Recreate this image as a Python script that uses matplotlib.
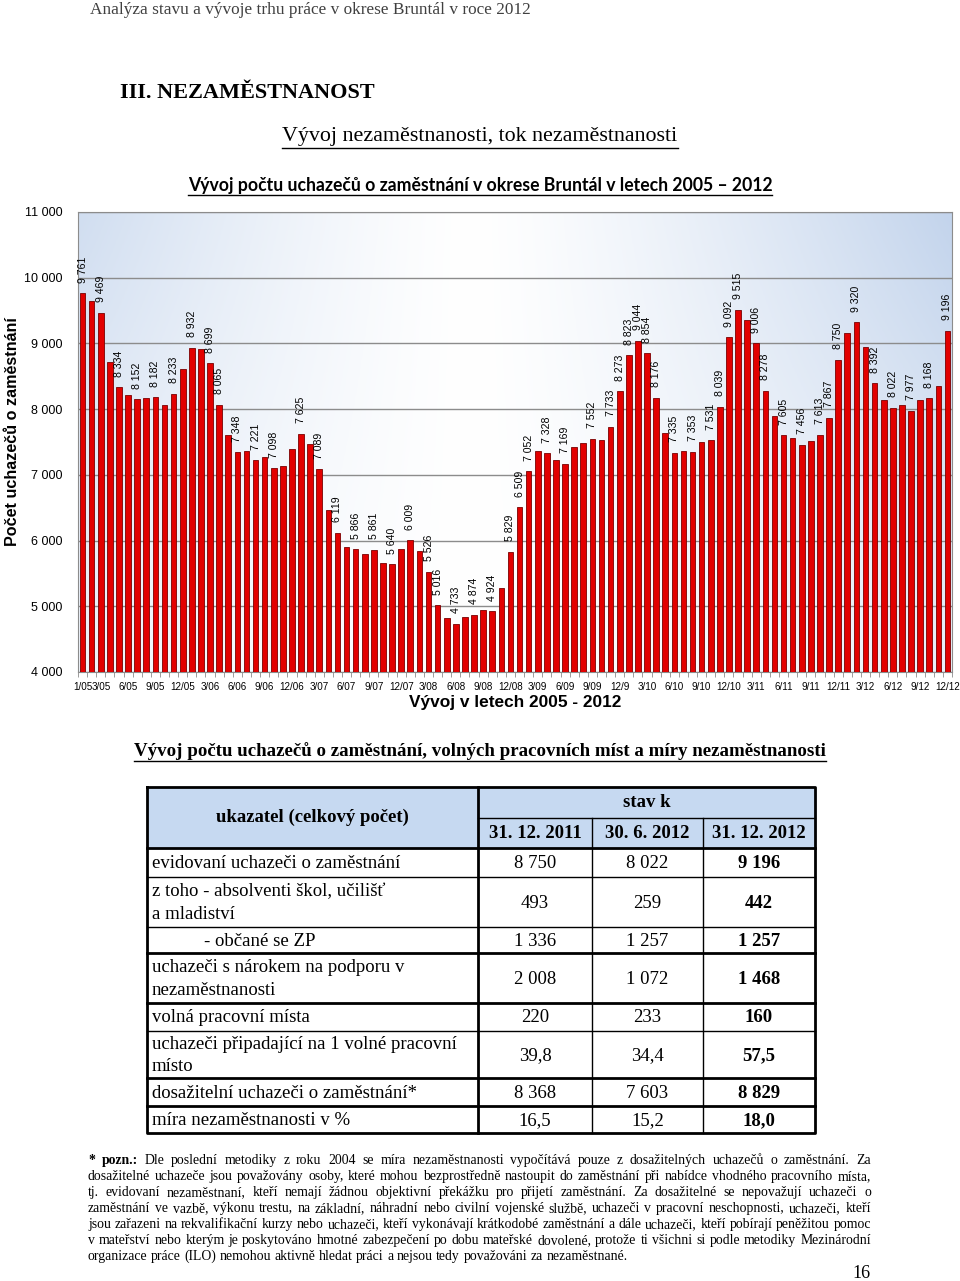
import matplotlib.pyplot as plt
import numpy as np
from matplotlib.colors import to_rgb

# pocet uchazecu o zamestnani, mesicne 1/2005 - 12/2012
values = [9761, 9640, 9469, 8712, 8334, 8218, 8152, 8168, 8182, 8062, 8233, 8617,
          8932, 8910, 8699, 8065, 7602, 7348, 7365, 7221, 7275, 7098, 7128, 7390,
          7625, 7472, 7089, 6462, 6119, 5906, 5866, 5795, 5861, 5659, 5640, 5876,
          6009, 5846, 5526, 5016, 4816, 4733, 4841, 4874, 4942, 4924, 5280, 5829,
          6509, 7052, 7356, 7328, 7219, 7169, 7431, 7482, 7552, 7533, 7733, 8273,
          8823, 9044, 8854, 8176, 7639, 7335, 7361, 7353, 7507, 7531, 8039, 9092,
          9515, 9350, 9006, 8278, 7891, 7605, 7558, 7456, 7522, 7613, 7867, 8750,
          9159, 9320, 8941, 8392, 8138, 8022, 8063, 7977, 8138, 8168, 8351, 9196]
# bars (1-based) that carry a value label
labelled = [1, 3, 5, 7, 9, 11, 13, 15, 16, 18, 20, 22, 25, 27, 29, 31, 33, 35, 37, 39,
            40, 42, 44, 46, 48, 49, 50, 52, 54, 57, 59, 60, 61, 62, 63, 64, 66, 68, 70,
            71, 72, 73, 75, 76, 78, 80, 82, 83, 84, 86, 88, 90, 92, 94, 96]
tick_labels = ['1/05', '3/05', '6/05', '9/05', '12/05', '3/06', '6/06', '9/06', '12/06',
               '3/07', '6/07', '9/07', '12/07', '3/08', '6/08', '9/08', '12/08',
               '3/09', '6/09', '9/09', '12/9', '3/10', '6/10', '9/10', '12/10',
               '3/11', '6/11', '9/11', '12/11', '3/12', '6/12', '9/12', '12/12']
tick_bars = [1, 3] + list(range(6, 97, 3))

tab_dates = ['31. 12. 2011', '30. 6. 2012', '31. 12. 2012']
tab_rows = ['evidovaní uchazeči o zaměstnání',
            'z toho - absolventi škol, učilišť\na mladiství',
            '- občané se ZP',
            'uchazeči s nárokem na podporu v\nnezaměstnanosti',
            'volná pracovní místa',
            'uchazeči připadající na 1 volné pracovní\nmísto',
            'dosažitelní uchazeči o zaměstnání*',
            'míra nezaměstnanosti v %']
col_dec2011 = ['8 750', '493', '1 336', '2 008', '220', '39,8', '8 368', '16,5']
col_jun2012 = ['8 022', '259', '1 257', '1 072', '233', '34,4', '7 603', '15,2']
col_dec2012 = ['9 196', '442', '1 257', '1 468', '160', '57,5', '8 829', '18,0']

note_lines = [
    '* pozn.: Dle poslední metodiky z roku 2004 se míra nezaměstnanosti vypočítává pouze z dosažitelných uchazečů o zaměstnání. Za',
    'dosažitelné uchazeče jsou považovány osoby, které mohou bezprostředně nastoupit do zaměstnání při nabídce vhodného pracovního místa,',
    'tj. evidovaní nezaměstnaní, kteří nemají žádnou objektivní překážku pro přijetí zaměstnání. Za dosažitelné se nepovažují uchazeči o',
    'zaměstnání ve vazbě, výkonu trestu, na základní, náhradní nebo civilní vojenské službě, uchazeči v pracovní neschopnosti, uchazeči, kteří',
    'jsou zařazeni na rekvalifikační kurzy nebo uchazeči, kteří vykonávají krátkodobé zaměstnání a dále uchazeči, kteří pobírají peněžitou pomoc',
    'v mateřství nebo kterým je poskytováno hmotné zabezpečení po dobu mateřské dovolené, protože ti všichni si podle metodiky Mezinárodní',
    'organizace práce (ILO) nemohou aktivně hledat práci a nejsou tedy považováni za nezaměstnané.',
]

SERIF = 'Liberation Serif'
SANS = 'Liberation Sans'

fig = plt.figure(figsize=(9.6, 12.81), dpi=100)
# page layer in pixel coordinates
page = fig.add_axes([0, 0, 1, 1])
page.set_xlim(0, 960)
page.set_ylim(1281, 0)
page.axis('off')
rend = fig.canvas.get_renderer()


def underline(t, dy=2, lw=1.0):
    bb = t.get_window_extent(rend).transformed(page.transData.inverted())
    y = max(bb.y0, bb.y1) + dy
    page.plot([bb.x0, bb.x1], [y, y], color='black', lw=lw)


page.text(90, 10, 'Analýza stavu a vývoje trhu práce v okrese Bruntál v roce 2012',
          family=SERIF, fontsize=12.4, color='#404040', va='center')
page.text(120, 93, 'III. NEZAMĚSTNANOST', family=SERIF, fontsize=16,
          fontweight='bold', va='center')
t = page.text(480, 137, 'Vývoj nezaměstnanosti, tok nezaměstnanosti', family=SERIF,
              fontsize=15.8, ha='center', va='center')
underline(t, 1)
t = page.text(480, 185, 'Vývoj počtu uchazečů o zaměstnání v okrese Bruntál v letech 2005 – 2012',
              family='Lato', fontsize=12.7, fontweight='bold', ha='center', va='center')
underline(t, 1)

# ---- bar chart ----
ax = fig.add_axes([78 / 960, 1 - 672 / 1281, 874 / 960, 460 / 1281])
x = np.arange(1, len(values) + 1)

# background gradient: blue at the sides and top, white towards the middle
blue = np.array(to_rgb('#c3d4ec'))
gx = np.linspace(0, 1, 300)
gy = np.linspace(0, 1, 100)[:, None]
tt = np.clip(np.abs(gx - 0.45) / 0.55, 0, 1)[None, :] ** 1.3
tt = tt * (0.35 + 0.65 * gy)
grad = (1 - tt)[:, :, None] * np.ones(3) + tt[:, :, None] * blue
ax.imshow(grad, extent=[0.5, len(values) + 0.5, 4000, 11000], aspect='auto',
          origin='lower', zorder=0)

ax.bar(x, values, width=0.62, bottom=0, color='#e20000', edgecolor='#7a0000',
       linewidth=0.6, zorder=3)
for b in labelled:
    ax.annotate(f'{values[b - 1]:,}'.replace(',', ' '), (b, values[b - 1]),
                xytext=(0, 7.5), textcoords='offset points', rotation=90,
                ha='center', va='bottom', fontsize=7.6, family=SANS, zorder=4)

ax.set_xlim(0.5, len(values) + 0.5)
ax.set_ylim(4000, 11000)
yt = list(range(4000, 11001, 1000))
ax.set_yticks(yt)
ax.set_yticklabels([f'{v:,}'.replace(',', ' ') for v in yt], family=SANS, fontsize=9)
ax.tick_params(axis='y', length=0, pad=11)
ax.yaxis.grid(True, color='#8c8c8c', lw=1.0, zorder=1)
ax.set_axisbelow(True)
ax.set_xticks(tick_bars)
ax.set_xticklabels(tick_labels, family=SANS, fontsize=7.1)
ax.set_xticks(np.arange(0.5, len(values) + 1, 1), minor=True)
ax.tick_params(axis='x', which='major', length=0, pad=7)
ax.tick_params(axis='x', which='minor', length=3.5, color='#8c8c8c')
for s in ax.spines.values():
    s.set_color('#8c8c8c')
page.text(13, 432, 'Počet uchazečů o zaměstnání', family=SANS, fontsize=11.6,
          fontweight='bold', rotation=90, ha='center', va='center')
page.text(515, 702, 'Vývoj v letech 2005 - 2012', family=SANS, fontsize=12.4,
          fontweight='bold', ha='center', va='center')

# ---- table ----
t = page.text(480, 751, 'Vývoj počtu uchazečů o zaměstnání, volných pracovních míst a míry nezaměstnanosti',
              family=SERIF, fontsize=13.6, fontweight='bold', ha='center', va='center')
underline(t, 1)

L, C1, C2, C3, R = 147, 478, 592, 703, 815
top, mid, hb = 787, 818, 848
row_edges = [848, 877, 927, 953, 1003, 1031, 1078, 1106, 1133]
thick_after = [953, 1003, 1078, 1106]

page.fill_between([L, R], top, hb, color='#c6d9f1', zorder=0)
page.plot([L, R, R, L, L], [top, top, row_edges[-1], row_edges[-1], top], color='black', lw=2)
page.plot([C1, C1], [top, row_edges[-1]], color='black', lw=2)
for cx in (C2, C3):
    page.plot([cx, cx], [mid, row_edges[-1]], color='black', lw=1)
page.plot([C1, R], [mid, mid], color='black', lw=1)
for ye in row_edges[:-1]:
    page.plot([L, R], [ye, ye], color='black', lw=2 if (ye in thick_after or ye == hb) else 1)

fs = 13.5
page.text((L + C1) / 2, (top + hb) / 2, 'ukazatel (celkový počet)', family=SERIF, fontsize=fs,
          fontweight='bold', ha='center', va='center')
page.text((C1 + R) / 2, (top + mid) / 2, 'stav k', family=SERIF, fontsize=fs,
          fontweight='bold', ha='center', va='center')
for (a, b), d in zip([(C1, C2), (C2, C3), (C3, R)], tab_dates):
    page.text((a + b) / 2, (mid + hb) / 2 + 1, d, family=SERIF, fontsize=fs,
              fontweight='bold', ha='center', va='center')

for i, name in enumerate(tab_rows):
    y0, y1 = row_edges[i], row_edges[i + 1]
    yc = (y0 + y1) / 2 + 1
    xl = 204 if name.startswith('-') else 152
    page.text(xl, yc, name, family=SERIF, fontsize=fs, ha='left', va='center',
              linespacing=1.45)
    page.text((C1 + C2) / 2, yc, col_dec2011[i], family=SERIF, fontsize=fs,
              ha='center', va='center')
    page.text((C2 + C3) / 2, yc, col_jun2012[i], family=SERIF, fontsize=fs,
              ha='center', va='center')
    page.text((C3 + R) / 2, yc, col_dec2012[i], family=SERIF, fontsize=fs,
              fontweight='bold', ha='center', va='center')

# ---- footnote, justified ----
nx0, nx1 = 88, 871
for k, line in enumerate(note_lines):
    y = 1164 + k * 16
    words = line.split(' ')
    texts = []
    for j, w in enumerate(words):
        bold = k == 0 and j < 2
        texts.append(page.text(0, y, w, family=SERIF, fontsize=9.9, va='baseline',
                               fontweight='bold' if bold else 'normal'))
    widths = [tx.get_window_extent(rend).width for tx in texts]
    if k < len(note_lines) - 1:
        gap = (nx1 - nx0 - sum(widths)) / (len(words) - 1)
    else:
        gap = texts[0].get_fontsize() * 0.25 * 100 / 72
    xpos = nx0
    for tx, wd in zip(texts, widths):
        tx.set_x(xpos)
        xpos += wd + gap

page.text(871, 1273, '16', family=SERIF, fontsize=13, ha='right', va='center')

fig.savefig('out.png', dpi=100)
